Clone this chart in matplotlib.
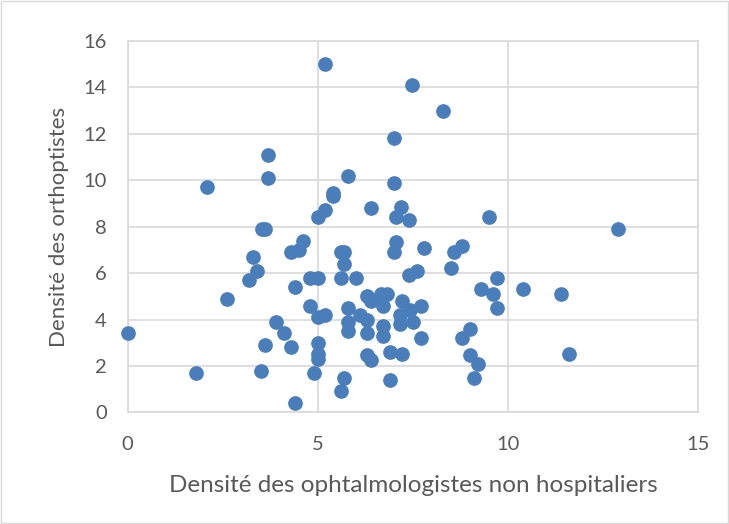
import matplotlib
matplotlib.use("Agg")
import matplotlib.pyplot as plt
from matplotlib.patches import Rectangle

# Densité des ophtalmologistes non hospitaliers (x) vs densité des orthoptistes (y)
ophtalmo = [
    0.0, 1.8, 2.1, 2.6, 3.2, 3.3, 3.4, 3.54, 3.62, 3.7, 3.7, 3.6, 3.5, 3.9, 4.1,
    4.3, 4.4, 4.3, 4.4, 4.5, 4.6, 4.8, 4.8, 4.9, 5.0, 5.0, 5.0, 5.0, 5.0, 5.0,
    5.2, 5.2, 5.2, 5.4, 5.4, 5.62, 5.7, 5.6, 5.7, 5.6, 5.7, 5.8, 5.8, 5.8, 5.8,
    6.0, 6.1, 6.3, 6.3, 6.3, 6.4, 6.3, 6.4, 6.4, 6.66, 6.81, 6.7, 6.7, 6.7, 6.9,
    6.9, 7.0, 7.0, 7.0, 7.06, 7.06, 7.19, 7.2, 7.16, 7.17, 7.2, 7.4, 7.4, 7.47,
    7.5, 7.42, 7.6, 7.7, 7.7, 7.8, 8.3, 8.5, 8.57, 8.8, 8.8, 9.0, 9.0, 9.1,
    9.2, 9.3, 9.5, 9.6, 9.7, 9.7, 10.4, 11.4, 11.6, 12.9,
]
orthoptistes = [
    3.4, 1.7, 9.7, 4.9, 5.7, 6.7, 6.1, 7.9, 7.9, 11.1, 10.1, 2.9, 1.8, 3.9, 3.4,
    2.8, 0.4, 6.9, 5.4, 7.0, 7.4, 5.8, 4.6, 1.7, 2.5, 2.3, 3.0, 4.1, 5.8, 8.4,
    15.0, 8.7, 4.2, 9.45, 9.3, 6.9, 6.9, 5.8, 6.4, 0.9, 1.5, 10.2, 4.5, 3.5, 3.9,
    5.8, 4.2, 5.0, 3.4, 2.45, 8.8, 4.0, 4.8, 2.25, 5.1, 5.1, 4.6, 3.7, 3.3, 2.6,
    1.4, 11.8, 9.9, 6.9, 7.35, 8.4, 8.85, 4.8, 4.2, 3.8, 2.5, 8.3, 5.9, 14.1,
    3.9, 4.4, 6.1, 4.6, 3.2, 7.1, 13.0, 6.2, 6.9, 7.15, 3.2, 3.6, 2.45, 1.5,
    2.1, 5.3, 8.4, 5.1, 5.8, 4.5, 5.3, 5.1, 2.5, 7.9,
]

fig = plt.figure(figsize=(7.29, 5.24), dpi=100)
ax = fig.add_axes([0.175, 0.213, 0.783, 0.709])

ax.scatter(ophtalmo, orthoptistes, s=112, color="#4a7ebb", linewidths=0,
           zorder=3, clip_on=False)

ax.set_xlim(0, 15)
ax.set_ylim(0, 16)
ax.set_xticks([0, 5, 10, 15])
ax.set_yticks(range(0, 17, 2))
ax.grid(True, color="#d9d9d9", linewidth=1.2)
ax.set_axisbelow(True)
for sp in ax.spines.values():
    sp.set_color("#d9d9d9")
    sp.set_linewidth(1.2)
ax.tick_params(length=0, labelsize=14.5, labelcolor="#595959")
ax.tick_params(axis="x", pad=17)
ax.tick_params(axis="y", pad=15)
for lab in ax.get_xticklabels() + ax.get_yticklabels():
    lab.set_family("Lato")

ax.set_xlabel("Densité des ophtalmologistes non hospitaliers", fontsize=17.5,
              color="#595959", family="Lato", labelpad=16)
ax.set_ylabel("Densité des orthoptistes", fontsize=16, color="#595959",
              family="Lato", labelpad=10)

fig.patches.append(Rectangle((0.002, 0.002), 0.996, 0.996, transform=fig.transFigure,
                             fill=False, edgecolor="#d9d9d9", linewidth=1))

fig.savefig("out.png", dpi=100)
